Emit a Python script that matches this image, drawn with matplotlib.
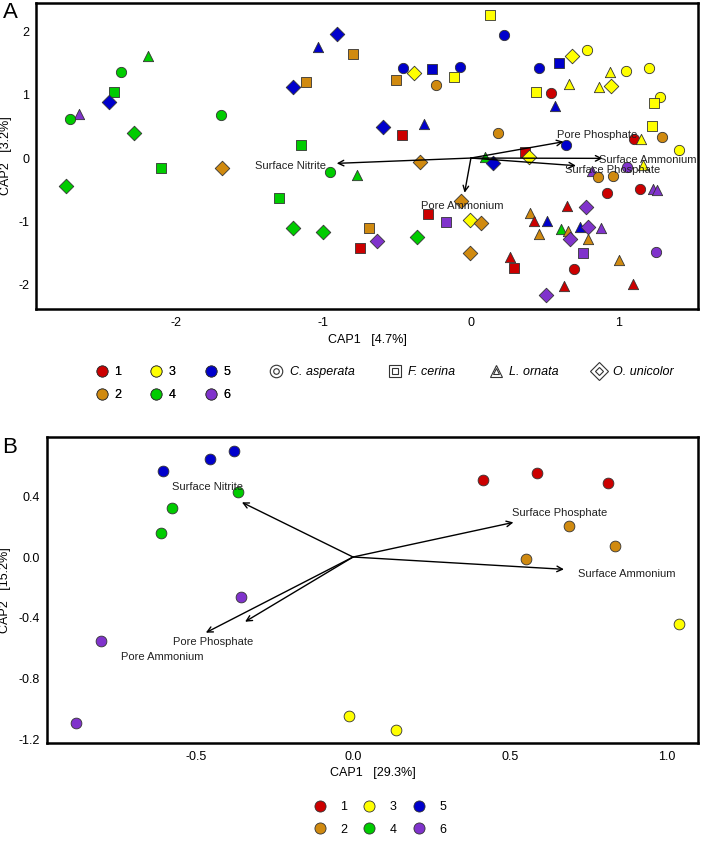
import matplotlib
matplotlib.use('Agg')
import matplotlib.pyplot as plt
from matplotlib.lines import Line2D
from matplotlib.legend_handler import HandlerTuple

plt.rcParams['font.family'] = ['Liberation Sans', 'DejaVu Sans']
plt.rcParams['axes.unicode_minus'] = False

# colours for the 6 groups
group_colors = {1: '#cc0000', 2: '#d08a10', 3: '#ffff00', 4: '#00cc00', 5: '#0000cc', 6: '#8033cc'}
species_names = ['C. asperata', 'F. cerina', 'L. ornata', 'O. unicolor']
species_markers = {'C': 'o', 'F': 's', 'L': '^', 'O': 'D'}

# ---- panel A data (CAP1, CAP2, group, species) ----
a_cap1 = [-0.911, -1.035, -0.802, -2.192, -2.373, -1.121, -1.209, -2.418, -2.454, -2.658,
          -2.721, -1.697, -2.285, -1.153, -2.102, -1.686, -0.956, -0.775, -2.748, -1.302,
          -1.205, -1.001, -0.692, -0.751, -0.344, -0.068, -0.290, -0.167, -0.009, 0.066,
          -0.639, -0.364, -0.007, -0.459, -0.386, -0.262, -0.073, -0.508, -0.113, -0.237,
          -0.595, -0.319, -0.466, 0.129, 0.222, 0.461, 0.597, 0.685, 0.786, 0.944,
          1.051, 1.207, 0.662, 0.868, 0.947, 0.439, 0.540, 0.569, 1.283, 1.239,
          0.184, 1.227, 0.646, 1.105, 1.153, 1.293, 1.410, 0.366, 0.393, 0.093,
          0.147, 0.818, 1.056, 1.166, 0.859, 0.963, 0.924, 1.146, 1.236, 1.261,
          0.653, 0.783, 0.400, 0.426, 0.513, 0.610, 0.659, 0.737, 0.792, 0.885,
          0.669, 0.463, 0.795, 0.763, 1.253, 1.005, 0.264, 0.289, 0.698, 0.632,
          1.096, 0.507]
a_cap2 = [1.959, 1.758, 1.643, 1.616, 1.363, 1.205, 1.117, 1.038, 0.889, 0.690,
          0.611, 0.679, 0.400, 0.201, -0.153, -0.163, -0.226, -0.269, -0.438, -0.637,
          -1.111, -1.164, -1.101, -1.427, -0.066, -0.676, -0.888, -1.003, -0.975, -1.022,
          -1.308, -1.243, -1.506, 1.417, 1.348, 1.401, 1.438, 1.232, 1.284, 1.148,
          0.494, 0.537, 0.363, 2.259, 1.948, 1.417, 1.496, 1.611, 1.706, 1.363,
          1.379, 1.417, 1.169, 1.117, 1.137, 1.043, 1.022, 0.826, 0.968, 0.869,
          0.403, 0.506, 0.205, 0.295, 0.295, 0.336, 0.126, 0.090, 0.021, 0.016,
          -0.079, -0.197, -0.137, -0.106, -0.292, -0.284, -0.553, -0.494, -0.494, -0.501,
          -0.755, -0.774, -0.861, -0.992, -0.995, -1.117, -1.145, -1.093, -1.085, -1.098,
          -1.276, -1.205, -1.276, -1.506, -1.480, -1.607, -1.559, -1.730, -1.750, -2.027,
          -1.983, -2.164]
a_group = [5, 5, 2, 4, 4, 2, 5, 4, 5, 6,
           4, 4, 4, 4, 4, 2, 4, 4, 4, 4,
           4, 4, 2, 1, 2, 2, 1, 6, 3, 2,
           6, 4, 2, 5, 3, 5, 5, 2, 3, 2,
           5, 5, 1, 3, 5, 5, 5, 3, 3, 3,
           3, 3, 3, 3, 3, 3, 1, 5, 3, 3,
           2, 3, 5, 1, 3, 2, 3, 1, 3, 4,
           5, 6, 6, 3, 2, 2, 1, 1, 6, 6,
           1, 6, 2, 1, 5, 4, 2, 5, 6, 6,
           6, 2, 2, 6, 6, 2, 1, 1, 1, 1,
           1, 6]
a_species = ['O', 'L', 'F', 'L', 'C', 'F', 'O', 'F', 'O', 'L',
             'C', 'C', 'O', 'F', 'F', 'O', 'C', 'L', 'O', 'F',
             'O', 'O', 'F', 'F', 'O', 'O', 'F', 'F', 'O', 'O',
             'O', 'O', 'O', 'C', 'O', 'F', 'C', 'F', 'F', 'C',
             'O', 'L', 'F', 'F', 'C', 'C', 'F', 'O', 'C', 'L',
             'C', 'C', 'L', 'L', 'O', 'F', 'C', 'L', 'C', 'F',
             'C', 'F', 'C', 'C', 'L', 'C', 'C', 'F', 'O', 'L',
             'O', 'L', 'C', 'L', 'C', 'C', 'C', 'C', 'L', 'L',
             'L', 'O', 'L', 'L', 'L', 'L', 'L', 'L', 'O', 'L',
             'O', 'L', 'L', 'F', 'C', 'L', 'L', 'F', 'C', 'L',
             'L', 'O']

a_vec_names = ['Surface Nitrite', 'Pore Ammonium', 'Pore Phosphate', 'Surface Ammonium', 'Surface Phosphate']
a_vec_x = [-0.910, -0.043, 0.628, 0.892, 0.712]
a_vec_y = [-0.084, -0.548, 0.258, -0.005, -0.121]
a_lab_x = [-1.225, -0.061, 0.858, 1.196, 0.959]
a_lab_y = [-0.126, -0.758, 0.363, -0.032, -0.190]

# ---- panel B data ----
b_cap1 = [-0.607, -0.455, -0.379, -0.365, -0.577, -0.612, -0.358, -0.803, -0.882,
          -0.013, 0.136, 1.039, 0.415, 0.585, 0.813, 0.688, 0.834, 0.552]
b_cap2 = [0.566, 0.645, 0.697, 0.426, 0.320, 0.156, -0.261, -0.553, -1.094,
          -1.044, -1.138, -0.441, 0.507, 0.555, 0.489, 0.206, 0.074, -0.015]
b_group = [5, 5, 5, 4, 4, 4, 6, 6, 6, 3, 3, 3, 1, 1, 1, 2, 2, 2]

b_vec_names = ['Surface Nitrite', 'Pore Phosphate', 'Pore Ammonium', 'Surface Phosphate', 'Surface Ammonium']
b_vec_x = [-0.354, -0.469, -0.344, 0.511, 0.672]
b_vec_y = [0.360, -0.498, -0.426, 0.228, -0.081]
b_lab_x = [-0.463, -0.447, -0.609, 0.659, 0.872]
b_lab_y = [0.459, -0.559, -0.656, 0.287, -0.112]

fig = plt.figure(figsize=(7.11, 8.42), dpi=100)
axA = fig.add_axes([0.0506, 0.633, 0.931, 0.3634])
axB = fig.add_axes([0.0661, 0.1176, 0.9156, 0.3634])


def style_axis(ax):
    for sp in ax.spines.values():
        sp.set_linewidth(1.8)
    ax.tick_params(axis='x', length=0, labelsize=9, pad=6)
    ax.tick_params(axis='y', length=0, labelsize=9, pad=5)


# panel A points
for i in range(len(a_cap1)):
    axA.scatter(a_cap1[i], a_cap2[i], s=55, marker=species_markers[a_species[i]],
                c=group_colors[a_group[i]], edgecolors='#333333', linewidths=0.6, zorder=3)
for name, vx, vy, lx, ly in zip(a_vec_names, a_vec_x, a_vec_y, a_lab_x, a_lab_y):
    axA.annotate('', xy=(vx, vy), xytext=(0, 0),
                 arrowprops=dict(arrowstyle='->', color='black', lw=1.0, shrinkA=0, shrinkB=0), zorder=4)
    axA.text(lx, ly, name, fontsize=8, ha='center', va='center', color='#222222', zorder=5)
axA.set_xlim(-2.949, 1.539)
axA.set_ylim(-2.385, 2.449)
axA.set_xticks([-2, -1, 0, 1])
axA.set_yticks([-2, -1, 0, 1, 2])
axA.set_xlabel('CAP1   [4.7%]', fontsize=9, labelpad=3)
axA.set_ylabel('CAP2   [3.2%]', fontsize=9)
axA.yaxis.set_label_coords(-0.036, 0.5)
style_axis(axA)
fig.text(0.014, 0.985, 'A', fontsize=16, ha='center', va='center')

# panel B points
for i in range(len(b_cap1)):
    axB.scatter(b_cap1[i], b_cap2[i], s=60, marker='o', c=group_colors[b_group[i]],
                edgecolors='#333333', linewidths=0.6, zorder=3)
for name, vx, vy, lx, ly in zip(b_vec_names, b_vec_x, b_vec_y, b_lab_x, b_lab_y):
    axB.annotate('', xy=(vx, vy), xytext=(0, 0),
                 arrowprops=dict(arrowstyle='->', color='black', lw=1.0, shrinkA=0, shrinkB=0), zorder=4)
    axB.text(lx, ly, name, fontsize=8, ha='center', va='center', color='#222222', zorder=5)
axB.set_xlim(-0.975, 1.099)
axB.set_ylim(-1.224, 0.79)
axB.set_xticks([-0.5, 0.0, 0.5, 1.0])
axB.set_xticklabels(['-0.5', '0.0', '0.5', '1.0'])
axB.set_yticks([0.4, 0.0, -0.4, -0.8, -1.2])
axB.set_yticklabels(['0.4', '0.0', '-0.4', '-0.8', '-1.2'])
axB.set_xlabel('CAP1   [29.3%]', fontsize=9, labelpad=3)
axB.set_ylabel('CAP2   [15.2%]', fontsize=9)
axB.yaxis.set_label_coords(-0.055, 0.5)
style_axis(axB)
fig.text(0.014, 0.468, 'B', fontsize=16, ha='center', va='center')

# legends
group_handles = [Line2D([], [], marker='o', ls='', markersize=8, markerfacecolor=group_colors[g],
                        markeredgecolor='#333333', markeredgewidth=0.6) for g in range(1, 7)]
group_labels = [str(g) for g in range(1, 7)]
legA = fig.legend(group_handles, group_labels, ncol=3, frameon=False, loc='upper left',
                  bbox_to_anchor=(0.1276, 0.5713), fontsize=9, handlelength=1.0, handletextpad=0.5,
                  columnspacing=2.3, labelspacing=0.9, borderaxespad=0)
sp_handles = []
for m in ['o', 's', '^', 'D']:
    outer = Line2D([], [], marker=m, ls='', markersize=9, markerfacecolor='none',
                   markeredgecolor='#333333', markeredgewidth=0.8)
    inner = Line2D([], [], marker=m, ls='', markersize=4, markerfacecolor='none',
                   markeredgecolor='#333333', markeredgewidth=0.8)
    sp_handles.append((outer, inner))
legS = fig.legend(sp_handles, species_names, ncol=4, frameon=False, loc='upper left',
                  bbox_to_anchor=(0.3724, 0.5713), handlelength=1.0, handletextpad=0.6,
                  columnspacing=2.7, borderaxespad=0,
                  handler_map={tuple: HandlerTuple(ndivide=1, pad=0)},
                  prop={'style': 'italic', 'size': 9})
fig.add_artist(legA)

legB = fig.legend(group_handles, group_labels, ncol=3, frameon=False, loc='upper left',
                  bbox_to_anchor=(0.434, 0.0546), fontsize=9, handlelength=1.0, handletextpad=1.14,
                  columnspacing=1.25, labelspacing=0.85, borderaxespad=0)

fig.savefig('out.png', dpi=100)
